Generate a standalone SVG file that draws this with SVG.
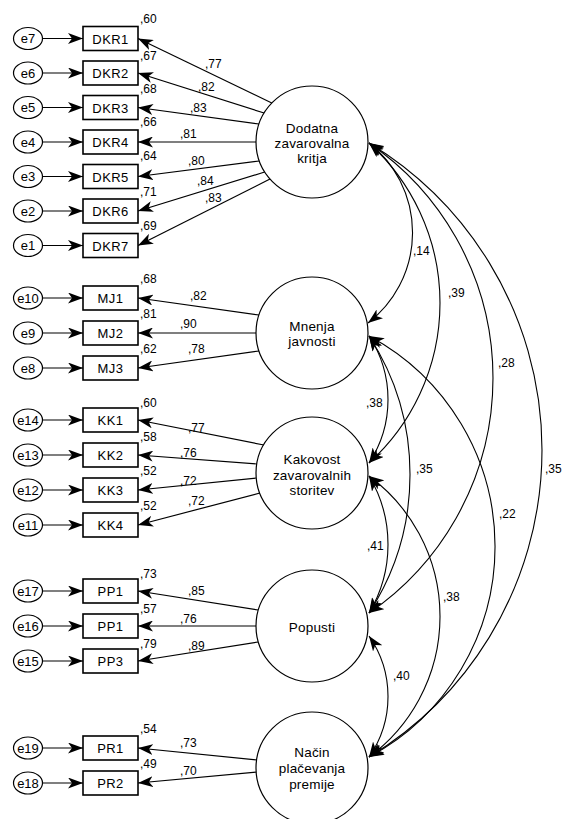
<svg xmlns="http://www.w3.org/2000/svg" width="565" height="819" viewBox="0 0 565 819">
  <defs>
    <marker id="head" viewBox="0 0 15 11" refX="15" refY="5.5" markerWidth="15" markerHeight="11" markerUnits="userSpaceOnUse" orient="auto-start-reverse">
      <path d="M0,0 L15,5.5 L0,11 L4,5.5 Z" fill="#000"/>
    </marker>
    <style>
      text { font-family: "Liberation Sans", Arial, sans-serif; fill: #000; }
      .box { fill: #fff; stroke: #000; stroke-width: 1.6; }
      .err { fill: #fff; stroke: #000; stroke-width: 1.2; }
      .lat { fill: #fff; stroke: #000; stroke-width: 1.2; }
      .ln { fill: none; stroke: #000; stroke-width: 1.2; marker-end: url(#head); }
      .cov { fill: none; stroke: #000; stroke-width: 1.1; marker-start: url(#head); marker-end: url(#head); }
      .nm { font-size: 13px; text-anchor: middle; letter-spacing: 0.4px; }
      .en { font-size: 13px; text-anchor: middle; }
      .lt { font-size: 13.5px; text-anchor: middle; letter-spacing: 0.2px; }
      .v { font-size: 12px; }
    </style>
  </defs>
  <rect width="565" height="819" fill="#fff"/>

  <!-- connectors: error terms, loadings, covariances -->
  <g id="connectors">
    <!-- error terms -->
    <path class="ln" d="M43,38.5 H83"/>
    <path class="ln" d="M43,73 H83"/>
    <path class="ln" d="M43,107.5 H83"/>
    <path class="ln" d="M43,142 H83"/>
    <path class="ln" d="M43,176.5 H83"/>
    <path class="ln" d="M43,211 H83"/>
    <path class="ln" d="M43,245.5 H83"/>
    <path class="ln" d="M43,298 H83"/>
    <path class="ln" d="M43,333 H83"/>
    <path class="ln" d="M43,368 H83"/>
    <path class="ln" d="M43,420 H83"/>
    <path class="ln" d="M43,455 H83"/>
    <path class="ln" d="M43,490 H83"/>
    <path class="ln" d="M43,525 H83"/>
    <path class="ln" d="M43,591 H83"/>
    <path class="ln" d="M43,626 H83"/>
    <path class="ln" d="M43,661 H83"/>
    <path class="ln" d="M43,748 H83"/>
    <path class="ln" d="M43,783 H83"/>

    <!-- loadings -->
    <path class="ln" d="M271.8,103 L138,38.5"/>
    <path class="ln" d="M264.1,113 L138,73"/>
    <path class="ln" d="M259,124 L138,107.5"/>
    <path class="ln" d="M256,142 L138,142"/>
    <path class="ln" d="M259.3,161 L138,176.5"/>
    <path class="ln" d="M264.7,172 L138,211"/>
    <path class="ln" d="M270,179 L138,245.5"/>

    <path class="ln" d="M259,315 L138,298"/>
    <path class="ln" d="M256,333 L138,333"/>
    <path class="ln" d="M259,351 L138,368"/>

    <path class="ln" d="M264,445 L138,420"/>
    <path class="ln" d="M257,464 L138,455"/>
    <path class="ln" d="M256.5,478 L138,490"/>
    <path class="ln" d="M260,493 L138,525"/>

    <path class="ln" d="M258,610 L138,591"/>
    <path class="ln" d="M256,626 L138,626"/>
    <path class="ln" d="M258,642 L138,661"/>

    <path class="ln" d="M257,760 L138,748"/>
    <path class="ln" d="M257,772 L138,783"/>

    <!-- covariances -->
    <path class="cov" d="M369,143 A114,114 0 0 1 368,323"/>
    <path class="cov" d="M369,143 A215.8,215.8 0 0 1 369,463"/>
    <path class="cov" d="M369,143 A284.7,284.7 0 0 1 369,613"/>
    <path class="cov" d="M369,143 A358.9,358.9 0 0 1 369,757"/>
    <path class="cov" d="M369,336 A115.6,115.6 0 0 1 369,463"/>
    <path class="cov" d="M369,336 A254.4,254.4 0 0 1 369,613"/>
    <path class="cov" d="M369,336 A238.8,238.8 0 0 1 369,757"/>
    <path class="cov" d="M369,476 A133,133 0 0 1 369,613"/>
    <path class="cov" d="M369,476 A174.5,174.5 0 0 1 369,757"/>
    <path class="cov" d="M369,636 A105.8,105.8 0 0 1 369,757"/>
  </g>

  <!-- coefficient labels -->
  <g id="estimates" class="v">
    <text x="205" y="68">,77</text>
    <text x="198" y="91">,82</text>
    <text x="190" y="112">,83</text>
    <text x="180" y="138">,81</text>
    <text x="188" y="165">,80</text>
    <text x="197" y="185">,84</text>
    <text x="205" y="202">,83</text>
    <text x="190" y="300">,82</text>
    <text x="180" y="328">,90</text>
    <text x="188" y="353">,78</text>
    <text x="188" y="432">,77</text>
    <text x="180" y="457">,76</text>
    <text x="180" y="485">,72</text>
    <text x="188" y="505">,72</text>
    <text x="188" y="595">,85</text>
    <text x="180" y="623">,76</text>
    <text x="188" y="650">,89</text>
    <text x="180" y="747">,73</text>
    <text x="180" y="775">,70</text>

    <text x="140" y="23">,60</text>
    <text x="140" y="60">,67</text>
    <text x="140" y="93">,68</text>
    <text x="140" y="126">,66</text>
    <text x="140" y="160">,64</text>
    <text x="140" y="196">,71</text>
    <text x="140" y="230">,69</text>
    <text x="140" y="283">,68</text>
    <text x="140" y="318">,81</text>
    <text x="140" y="353">,62</text>
    <text x="140" y="407">,60</text>
    <text x="140" y="441">,58</text>
    <text x="140" y="475">,52</text>
    <text x="140" y="510">,52</text>
    <text x="140" y="578">,73</text>
    <text x="140" y="613">,57</text>
    <text x="140" y="648">,79</text>
    <text x="140" y="733">,54</text>
    <text x="140" y="768">,49</text>

    <text x="413" y="255">,14</text>
    <text x="448" y="297">,39</text>
    <text x="498" y="367">,28</text>
    <text x="545" y="473">,35</text>
    <text x="366" y="407">,38</text>
    <text x="416" y="473">,35</text>
    <text x="499" y="518">,22</text>
    <text x="367" y="550">,41</text>
    <text x="443" y="601">,38</text>
    <text x="393" y="680">,40</text>
  </g>

  <!-- latent factors -->
  <g id="f-dodatna">
    <circle class="lat" cx="312" cy="142" r="56"/>
    <text class="lt" x="312" y="133">Dodatna</text>
    <text class="lt" x="312" y="148">zavarovalna</text>
    <text class="lt" x="312" y="163">kritja</text>
  </g>
  <g id="f-mnenja">
    <circle class="lat" cx="312" cy="333" r="56"/>
    <text class="lt" x="312" y="331">Mnenja</text>
    <text class="lt" x="312" y="346">javnosti</text>
  </g>
  <g id="f-kakovost">
    <circle class="lat" cx="312" cy="473" r="56"/>
    <text class="lt" x="312" y="464">Kakovost</text>
    <text class="lt" x="312" y="479.5">zavarovalnih</text>
    <text class="lt" x="312" y="495">storitev</text>
  </g>
  <g id="f-popusti">
    <circle class="lat" cx="312" cy="626" r="56"/>
    <text class="lt" x="312" y="632">Popusti</text>
  </g>
  <g id="f-nacin">
    <circle class="lat" cx="312" cy="768" r="56"/>
    <text class="lt" x="312" y="757">Način</text>
    <text class="lt" x="312" y="773">plačevanja</text>
    <text class="lt" x="312" y="789">premije</text>
  </g>

  <!-- observed indicators -->
  <g id="dkr1"><rect class="box" x="83" y="26.5" width="55" height="24"/><text class="nm" x="110.5" y="43.5">DKR1</text></g>
  <g id="dkr2"><rect class="box" x="83" y="61" width="55" height="24"/><text class="nm" x="110.5" y="78">DKR2</text></g>
  <g id="dkr3"><rect class="box" x="83" y="95.5" width="55" height="24"/><text class="nm" x="110.5" y="112.5">DKR3</text></g>
  <g id="dkr4"><rect class="box" x="83" y="130" width="55" height="24"/><text class="nm" x="110.5" y="147">DKR4</text></g>
  <g id="dkr5"><rect class="box" x="83" y="164.5" width="55" height="24"/><text class="nm" x="110.5" y="181.5">DKR5</text></g>
  <g id="dkr6"><rect class="box" x="83" y="199" width="55" height="24"/><text class="nm" x="110.5" y="216">DKR6</text></g>
  <g id="dkr7"><rect class="box" x="83" y="233.5" width="55" height="24"/><text class="nm" x="110.5" y="250.5">DKR7</text></g>
  <g id="mj1"><rect class="box" x="83" y="286" width="55" height="24"/><text class="nm" x="110.5" y="303">MJ1</text></g>
  <g id="mj2"><rect class="box" x="83" y="321" width="55" height="24"/><text class="nm" x="110.5" y="338">MJ2</text></g>
  <g id="mj3"><rect class="box" x="83" y="356" width="55" height="24"/><text class="nm" x="110.5" y="373">MJ3</text></g>
  <g id="kk1"><rect class="box" x="83" y="408" width="55" height="24"/><text class="nm" x="110.5" y="425">KK1</text></g>
  <g id="kk2"><rect class="box" x="83" y="443" width="55" height="24"/><text class="nm" x="110.5" y="460">KK2</text></g>
  <g id="kk3"><rect class="box" x="83" y="478" width="55" height="24"/><text class="nm" x="110.5" y="495">KK3</text></g>
  <g id="kk4"><rect class="box" x="83" y="513" width="55" height="24"/><text class="nm" x="110.5" y="530">KK4</text></g>
  <g id="pp1a"><rect class="box" x="83" y="579" width="55" height="24"/><text class="nm" x="110.5" y="596">PP1</text></g>
  <g id="pp1b"><rect class="box" x="83" y="614" width="55" height="24"/><text class="nm" x="110.5" y="631">PP1</text></g>
  <g id="pp3"><rect class="box" x="83" y="649" width="55" height="24"/><text class="nm" x="110.5" y="666">PP3</text></g>
  <g id="pr1"><rect class="box" x="83" y="736" width="55" height="24"/><text class="nm" x="110.5" y="753">PR1</text></g>
  <g id="pr2"><rect class="box" x="83" y="771" width="55" height="24"/><text class="nm" x="110.5" y="788">PR2</text></g>

  <!-- error terms -->
  <g id="e7"><ellipse class="err" cx="28" cy="38.5" rx="14.5" ry="11"/><text class="en" x="28" y="43">e7</text></g>
  <g id="e6"><ellipse class="err" cx="28" cy="73" rx="14.5" ry="11"/><text class="en" x="28" y="77.5">e6</text></g>
  <g id="e5"><ellipse class="err" cx="28" cy="107.5" rx="14.5" ry="11"/><text class="en" x="28" y="112">e5</text></g>
  <g id="e4"><ellipse class="err" cx="28" cy="142" rx="14.5" ry="11"/><text class="en" x="28" y="146.5">e4</text></g>
  <g id="e3"><ellipse class="err" cx="28" cy="176.5" rx="14.5" ry="11"/><text class="en" x="28" y="181">e3</text></g>
  <g id="e2"><ellipse class="err" cx="28" cy="211" rx="14.5" ry="11"/><text class="en" x="28" y="215.5">e2</text></g>
  <g id="e1"><ellipse class="err" cx="28" cy="245.5" rx="14.5" ry="11"/><text class="en" x="28" y="250">e1</text></g>
  <g id="e10"><ellipse class="err" cx="28" cy="298" rx="14.5" ry="11"/><text class="en" x="28" y="302.5">e10</text></g>
  <g id="e9"><ellipse class="err" cx="28" cy="333" rx="14.5" ry="11"/><text class="en" x="28" y="337.5">e9</text></g>
  <g id="e8"><ellipse class="err" cx="28" cy="368" rx="14.5" ry="11"/><text class="en" x="28" y="372.5">e8</text></g>
  <g id="e14"><ellipse class="err" cx="28" cy="420" rx="14.5" ry="11"/><text class="en" x="28" y="424.5">e14</text></g>
  <g id="e13"><ellipse class="err" cx="28" cy="455" rx="14.5" ry="11"/><text class="en" x="28" y="459.5">e13</text></g>
  <g id="e12"><ellipse class="err" cx="28" cy="490" rx="14.5" ry="11"/><text class="en" x="28" y="494.5">e12</text></g>
  <g id="e11"><ellipse class="err" cx="28" cy="525" rx="14.5" ry="11"/><text class="en" x="28" y="529.5">e11</text></g>
  <g id="e17"><ellipse class="err" cx="28" cy="591" rx="14.5" ry="11"/><text class="en" x="28" y="595.5">e17</text></g>
  <g id="e16"><ellipse class="err" cx="28" cy="626" rx="14.5" ry="11"/><text class="en" x="28" y="630.5">e16</text></g>
  <g id="e15"><ellipse class="err" cx="28" cy="661" rx="14.5" ry="11"/><text class="en" x="28" y="665.5">e15</text></g>
  <g id="e19"><ellipse class="err" cx="28" cy="748" rx="14.5" ry="11"/><text class="en" x="28" y="752.5">e19</text></g>
  <g id="e18"><ellipse class="err" cx="28" cy="783" rx="14.5" ry="11"/><text class="en" x="28" y="787.5">e18</text></g>
</svg>
